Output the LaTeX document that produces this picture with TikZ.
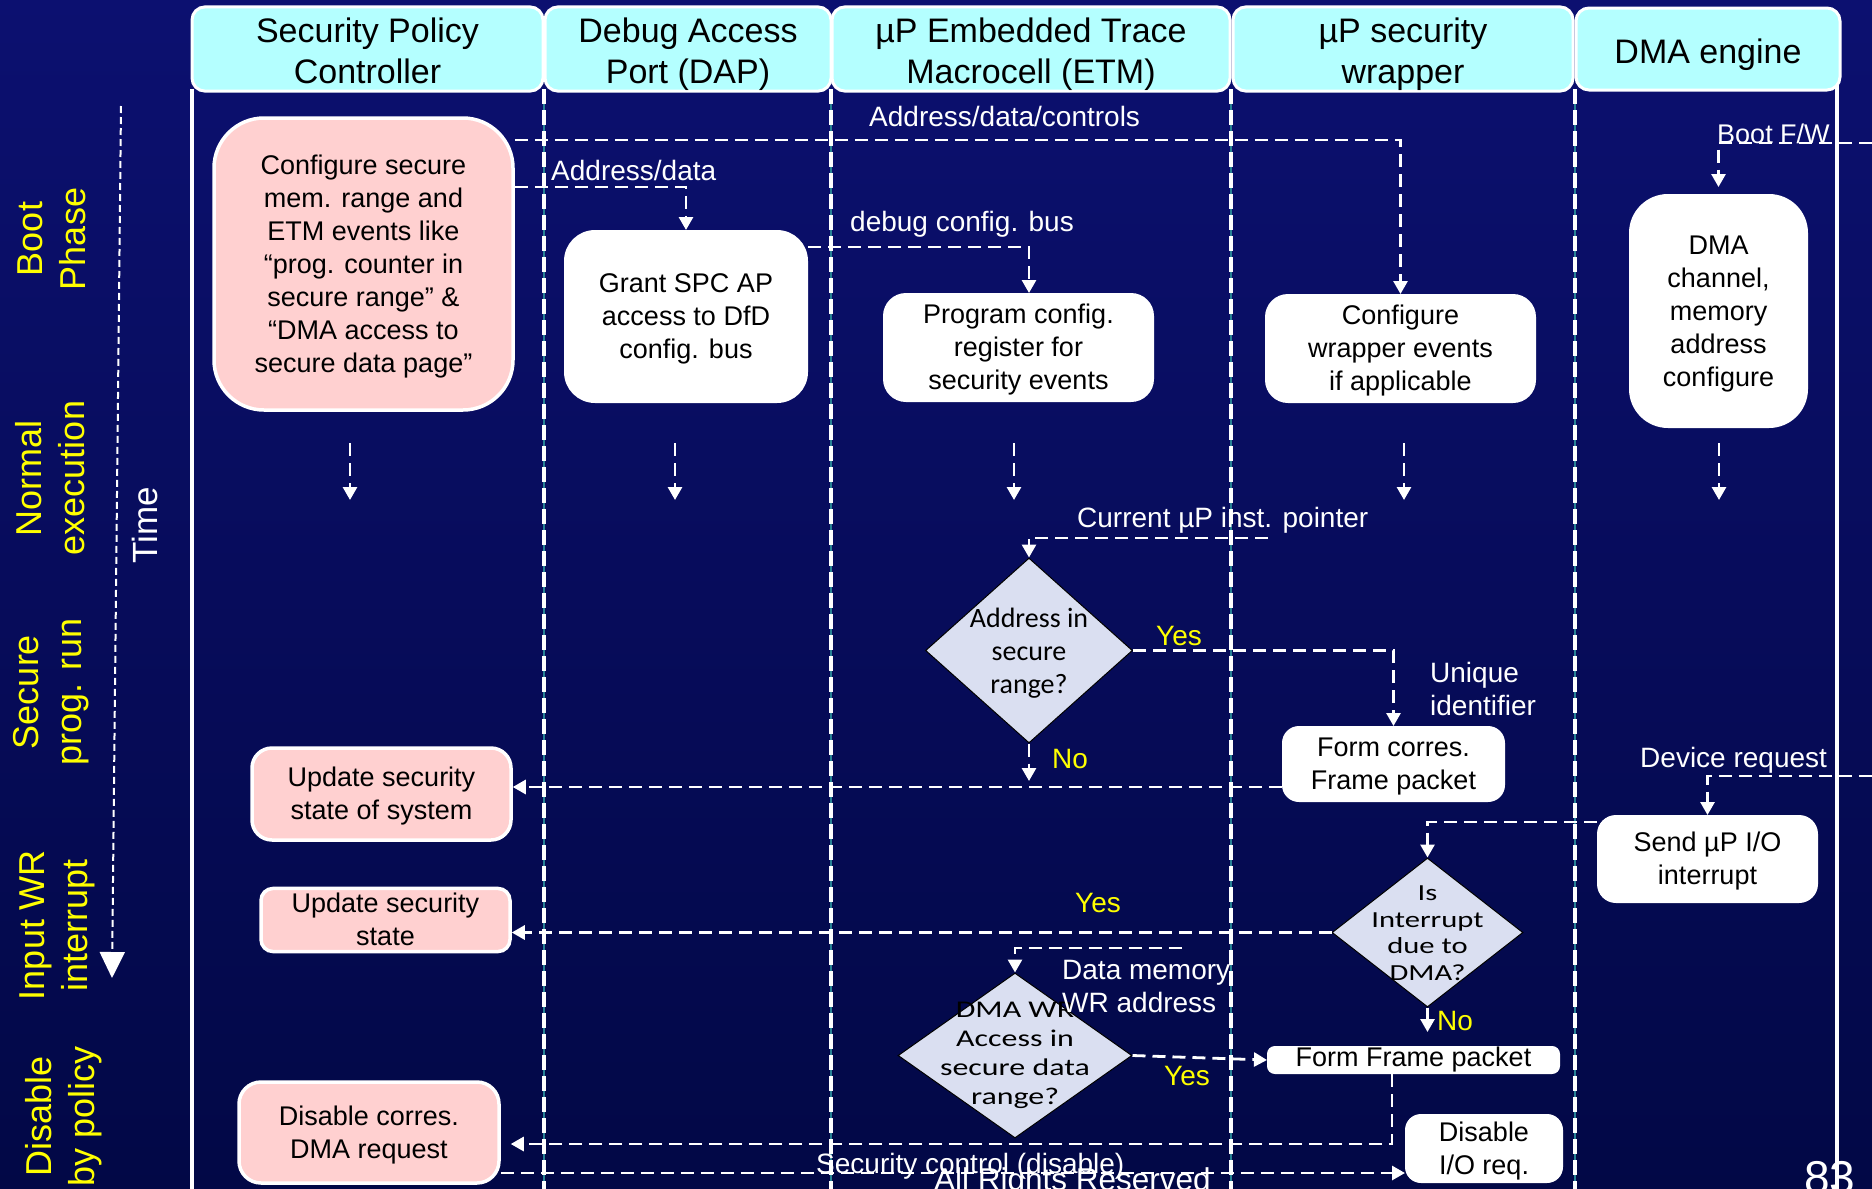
\documentclass[tikz,border=0pt]{standalone}
\usepackage{fontspec}
\setmainfont{Liberation Sans}
\newfontfamily\decfont{Carlito}
\newfontfamily\decwide[FakeStretch=1.33]{Carlito}
\usetikzlibrary{arrows.meta,shapes.geometric,calc}

\definecolor{bgtop}{RGB}{12,16,112}
\definecolor{bgmid}{RGB}{4,24,156}
\definecolor{bgbot}{RGB}{2,8,70}
\definecolor{hdrcyan}{RGB}{180,255,255}
\definecolor{pinkfill}{RGB}{255,208,208}
\definecolor{decfill}{RGB}{218,223,241}
\definecolor{yellowtxt}{RGB}{255,255,0}
\definecolor{laneteal}{RGB}{40,130,150}

% line struts that give every text block fixed ascent and descent
\newcommand\tS{\rule{0pt}{24.4pt}}
\newcommand\bS{\rule[-5.7pt]{0pt}{5.7pt}}
\newcommand\htS{\rule{0pt}{36pt}}
\newcommand\hbS{\rule[-7.2pt]{0pt}{7.2pt}}

\begin{document}
\begin{tikzpicture}[x=1pt,y=-1pt,
  hdr/.style={draw=white, line width=3pt, fill=hdrcyan, rounded corners=13pt,
    minimum height=82pt, inner sep=0pt, align=center, text=black,
    font=\fontsize{34}{41}\selectfont},
  box/.style={fill=white, draw=white, line width=2pt, inner sep=0pt,
    align=center, text=black, font=\fontsize{27}{33}\selectfont},
  pinkbox/.style={box, fill=pinkfill, line width=3.5pt},
  decision/.style={diamond, fill=decfill, draw=black, line width=1pt, inner sep=0pt},
  dtext/.style={align=center, text=black, inner sep=0pt},
  conn/.style={draw=white, line width=2.8pt, dash pattern=on 13pt off 7pt,
    -{Triangle[width=14pt,length=13pt]}},
  lanesep/.style={draw=white, line width=4.5pt, dash pattern=on 15pt off 6pt},
  lbl/.style={text=white, inner sep=0pt, font=\fontsize{28}{33}\selectfont},
  ylbl/.style={lbl, text=yellowtxt},
  phase/.style={rotate=90, text=yellowtxt, align=center, inner sep=0pt,
    font=\fontsize{36}{43}\selectfont}
]
\useasboundingbox (0,0) rectangle (1872,1189);
\clip (0,0) rectangle (1872,1189);

% background
\shade[top color=bgtop, middle color=bgmid, bottom color=bgbot] (0,0) rectangle (1872,1189);

% swimlane borders
\draw[white, line width=3.5pt] (192,89) -- (192,1189);
\draw[white, line width=3.5pt] (1837,85) -- (1837,1189);
\foreach \lx in {544,831,1231,1575}{
  \draw[laneteal, line width=1.2pt] (\lx,89) -- (\lx,1189);
  \draw[lanesep] (\lx,89) -- (\lx,1189);
}

% lane headers
\node[hdr, minimum width=351pt] (h1) at (367.5,49) {\htS Security Policy\\Controller\hbS};
\node[hdr, minimum width=286pt] (h2) at (688,49) {\htS Debug Access\\Port (DAP)\hbS};
\node[hdr, minimum width=398pt] (h3) at (1031,49) {\htS µP Embedded Trace\\Macrocell (ETM)\hbS};
\node[hdr, minimum width=340pt] (h4) at (1403,49) {\htS µP security\\wrapper\hbS};
\node[hdr, minimum width=264pt] (h5) at (1708,49) {\htS DMA engine\hbS};

% phase labels and time axis
\node[phase] (pboot) at (52,239) {Boot\\Phase};
\node[phase] (pnorm) at (50,478) {Normal\\execution};
\node[phase] (psec) at (51,692) {Secure\\prog. run};
\node[phase] (pint) at (57,925) {Input WR\\interrupt};
\node[phase] (pdis) at (64,1116) {Disable\\by policy};
\coordinate (ttop) at (121,106);
\coordinate (tbot) at (112,978);
\draw[white, line width=2pt, dash pattern=on 7pt off 4pt,
  -{Triangle[width=25pt,length=26pt]}] (ttop) -- (tbot);
\node[rotate=90, text=white, inner sep=0pt, font=\fontsize{35}{40}\selectfont] (time) at (145,525) {Time};

% process boxes
\node[pinkbox, rounded corners=50pt, minimum width=299pt, minimum height=292pt] (cfg) at (363.5,264)
  {\tS Configure secure\\mem. range and\\ETM events like\\“prog. counter in\\secure range” \&\\“DMA access to\\secure data page”\bS};
\node[box, rounded corners=30pt, minimum width=242pt, minimum height=171pt] (grant) at (686,316.5)
  {\tS Grant SPC AP\\access to DfD\\config. bus\bS};
\node[box, rounded corners=22pt, minimum width=269pt, minimum height=107pt] (prog) at (1018.5,347.5)
  {\tS Program config.\\register for\\security events\bS};
\node[box, rounded corners=22pt, minimum width=269pt, minimum height=107pt] (wrp) at (1400.5,348.5)
  {\tS Configure\\wrapper events\\if applicable\bS};
\node[box, rounded corners=38pt, minimum width=177pt, minimum height=232pt] (dmac) at (1718.5,311)
  {\tS DMA\\channel,\\memory\\address\\configure\bS};
\node[box, rounded corners=16pt, minimum width=221pt, minimum height=74pt] (fc) at (1393.5,764)
  {\tS Form corres.\\Frame packet\bS};
\node[pinkbox, rounded corners=20pt, minimum width=259pt, minimum height=92pt] (upd1) at (381.5,794)
  {\tS Update security\\state of system\bS};
\node[box, rounded corners=18pt, minimum width=219pt, minimum height=86pt] (send) at (1707.5,859)
  {\tS Send µP I/O\\interrupt\bS};
\node[pinkbox, rounded corners=12pt, minimum width=249pt, minimum height=60pt] (upd2) at (385.5,920)
  {\tS Update security\\state\bS};
\node[box, rounded corners=7pt, minimum width=291pt, minimum height=26pt] (ffp) at (1413.5,1060)
  {Form Frame packet};
\node[pinkbox, rounded corners=22pt, minimum width=260pt, minimum height=101pt] (dis) at (369,1132.5)
  {\tS Disable corres.\\DMA request\bS};
\node[box, rounded corners=15pt, minimum width=156pt, minimum height=67pt] (dio) at (1484,1148.5)
  {\tS Disable\\I/O req.\bS};

% decisions
\node[decision, minimum width=207pt, minimum height=185pt] (d1) at (1029,650.5) {};
\node[dtext, font=\decfont\fontsize{28}{33}\selectfont] (d1t) at (1029,653) {Address in\\secure\\range?};
\node[decision, minimum width=191pt, minimum height=149pt] (d2) at (1427.5,932.5) {};
\node[dtext, font=\decwide\fontsize{23}{26.5}\selectfont] (d2t) at (1427.5,933) {Is\\Interrupt\\due to\\DMA?};
\node[decision, minimum width=234pt, minimum height=165pt] (d3) at (1015,1055.5) {};
\node[dtext, font=\decwide\fontsize{24}{29}\selectfont] (d3t) at (1015,1055) {DMA WR\\Access in\\secure data\\range?};

% free ends of connectors
\coordinate (bfsrc) at (1872,143);
\coordinate (ipsrc) at (1268,538);
\coordinate (devsrc) at (1872,776);
\coordinate (dmsrc) at (1182,948);
\coordinate (nohit) at (1029,781);
\foreach \nx [count=\i] in {350,675,1014,1404,1719}{
  \coordinate (ns\i) at (\nx,443);
  \coordinate (ne\i) at (\nx,500);
}

% connectors
\draw[conn] (cfg.east |- 0,140) -| (wrp.north);
\draw[conn] (cfg.east |- 0,187) -| (grant.north);
\draw[conn] (grant.east |- 0,247) -| (prog.north -| 1029,0);
\draw[conn, shorten >=7pt] (bfsrc) -| (dmac.north);
\foreach \i in {1,...,5}{ \draw[conn] (ns\i) -- (ne\i); }
\draw[conn] (ipsrc) -| (d1.north);
\draw[conn] (d1.east) -| (fc.north);
\draw[conn] (d1.south) -- (nohit);
\draw[conn] (fc.west |- 0,787) -- (upd1.east |- 0,787);
\draw[conn] (devsrc) -| (send.north);
\draw[conn] (send.west |- 0,822) -| (d2.north);
\draw[conn] (d2.west) -- (upd2.east |- d2.west);
\draw[conn, shorten >=14pt] (d2.south) -- (ffp.north -| d2.south);
\draw[conn] (dmsrc) -| (d3.north);
\draw[conn] (d3.east) -- (ffp.west);
\draw[conn, shorten >=10pt] (ffp.south -| 1392,0) |- (dis.east |- 0,1144);
\draw[conn] (dis.east |- 0,1173) -- (dio.west |- 0,1173);

% connector labels
\node[lbl, anchor=base west] (l1) at (869,126) {Address/data/controls};
\node[lbl, anchor=base west] (l2) at (551,180) {Address/data};
\node[lbl, anchor=base west] (l3) at (850,231) {debug config. bus};
\node[lbl, anchor=base west, font=\fontsize{27}{33}\selectfont] (l4) at (1717,143) {Boot F/W};
\node[lbl, anchor=base west] (l5) at (1077,527) {Current µP inst. pointer};
\node[ylbl, anchor=base west] (l6) at (1156,645) {Yes};
\node[lbl, anchor=north west, align=left] (l7) at (1430,662) {Unique\\identifier};
\node[ylbl, anchor=base west] (l8) at (1052,768) {No};
\node[lbl, anchor=base west] (l9) at (1640,767) {Device request};
\node[ylbl, anchor=base west] (l10) at (1075,912) {Yes};
\node[lbl, anchor=north west, align=left] (l11) at (1062,960) {Data memory\\WR address};
\node[ylbl, anchor=base west] (l12) at (1437,1030) {No};
\node[ylbl, anchor=base west] (l13) at (1164,1085) {Yes};
\node[lbl, anchor=base west] (l14) at (816,1173) {Security control (disable)};

% footer
\node[lbl, anchor=base west, font=\fontsize{31.5}{36}\selectfont] (foot) at (934,1190) {All Rights Reserved};
\node[lbl, anchor=base west, font=\fontsize{46}{50}\selectfont] (pageno) at (1804,1193) {83};
\end{tikzpicture}
\end{document}
